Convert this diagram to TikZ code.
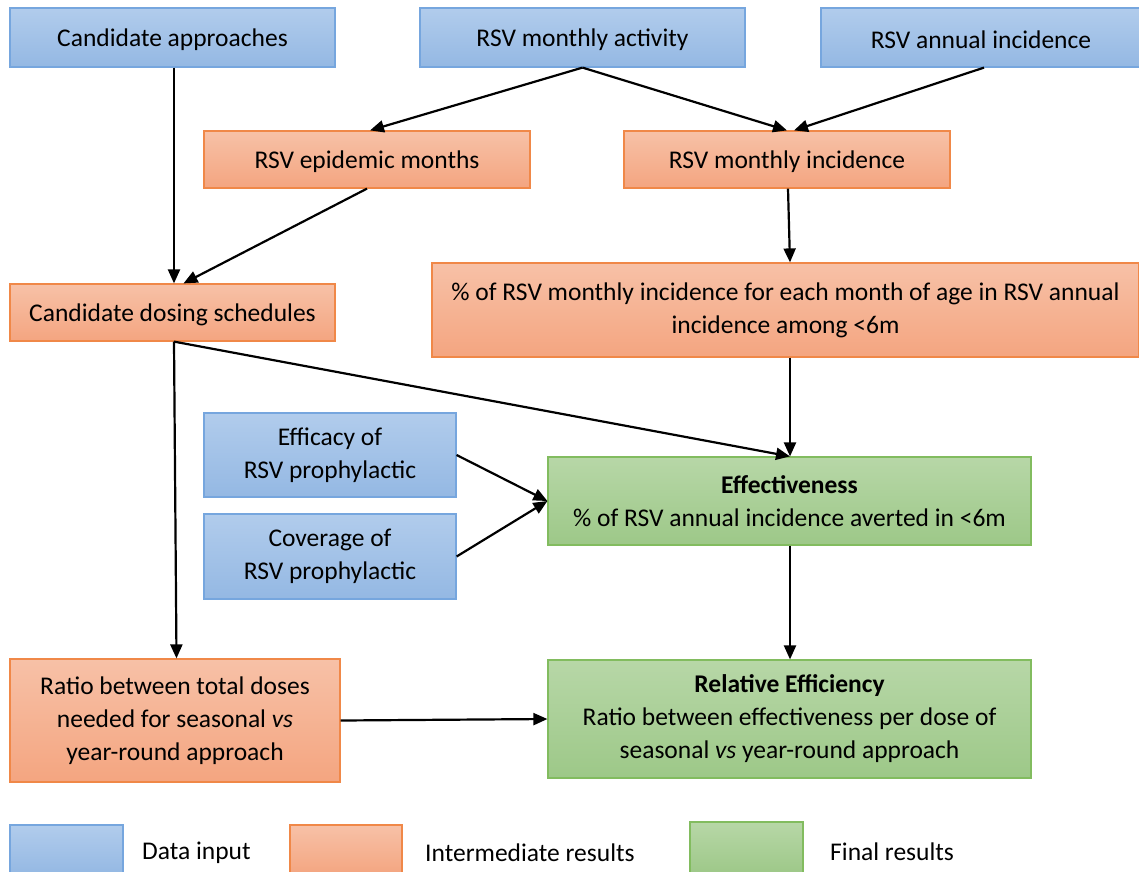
\documentclass[tikz,border=0pt]{standalone}
\usepackage{fontspec}
\setmainfont{Carlito}
\usetikzlibrary{arrows.meta,calc}
\newcommand{\lowtxt}[1]{\raisebox{-2.5pt}[\height][\depth]{#1}}
\definecolor{bltop}{RGB}{177,204,236}
\definecolor{blbot}{RGB}{148,184,227}
\definecolor{blbd}{RGB}{118,166,222}
\definecolor{ortop}{RGB}{247,193,167}
\definecolor{orbot}{RGB}{244,165,128}
\definecolor{orbd}{RGB}{240,136,72}
\definecolor{grtop}{RGB}{183,215,167}
\definecolor{grbot}{RGB}{157,200,136}
\definecolor{grbd}{RGB}{130,188,95}
\tikzset{
  box/.style={line width=1.2pt, inner sep=0pt, align=center, font=\fontsize{25.5}{33}\selectfont},
  datab/.style={box, draw=blbd, top color=bltop, bottom color=blbot},
  interb/.style={box, draw=orbd, top color=ortop, bottom color=orbot},
  finalb/.style={box, draw=grbd, top color=grtop, bottom color=grbot},
  legtext/.style={anchor=west, inner sep=0pt, font=\fontsize{25.5}{33}\selectfont},
  arr/.style={-{Triangle[length=14pt,width=12pt]}, line width=2.2pt},
}
\begin{document}
\begin{tikzpicture}[x=1pt,y=-1pt]
\useasboundingbox (0,0) rectangle (1139,871);
\fill[white] (0,0) rectangle (1139,871);
% nodes
\node[datab, minimum width=325pt, minimum height=59pt] (ca) at (172.5,37.5) {\lowtxt{Candidate approaches}};
\node[datab, minimum width=325pt, minimum height=59pt] (act) at (582.5,37.5) {\lowtxt{RSV monthly activity}};
\node[datab, minimum width=320pt, minimum height=59pt] (ann) at (981,37.5) {\lowtxt{RSV annual incidence}};
\node[interb, minimum width=326pt, minimum height=57pt] (epi) at (367,159.5) {\lowtxt{RSV epidemic months}};
\node[interb, minimum width=326pt, minimum height=57pt] (minc) at (787,159.5) {\lowtxt{RSV monthly incidence}};
\node[interb, minimum width=325pt, minimum height=57pt] (dose) at (172.5,312.5) {\lowtxt{Candidate dosing schedules}};
\node[interb, minimum width=707pt, minimum height=94pt] (pct) at (785.5,310) {\% of RSV monthly incidence for each month of age in RSV annual\\incidence among <6m};
\node[datab, minimum width=252pt, minimum height=84pt] (effi) at (330,455) {Efficacy of\\RSV prophylactic};
\node[datab, minimum width=252pt, minimum height=85pt] (cov) at (330,556.5) {Coverage of\\RSV prophylactic};
\node[finalb, minimum width=483pt, minimum height=88pt] (eff) at (789.5,501) {\textbf{Effectiveness}\\\% of RSV annual incidence averted in <6m};
\node[interb, minimum width=330pt, minimum height=123pt] (ratio) at (175,720.5) {Ratio between total doses\\needed for seasonal \textit{vs}\\year-round approach};
\node[finalb, minimum width=483pt, minimum height=118pt] (rel) at (789.5,719) {\textbf{Relative Efficiency}\\Ratio between effectiveness per dose of\\seasonal \textit{vs} year-round approach};
% legend
\node[datab, minimum width=113pt, minimum height=50pt] (lb) at (66.5,850) {};
\node[interb, minimum width=112pt, minimum height=50pt] (lo) at (346,850) {};
\node[finalb, minimum width=113pt, minimum height=52pt] (lg) at (746.5,848) {};
\node[legtext] (lbt) at (142,853) {Data input};
\node[legtext] (lot) at (425,853) {Intermediate results};
\node[legtext] (lgt) at (830,852) {Final results};
% connectors
\draw[arr] ([xshift=1.5pt]ca.south) -- ([xshift=1.5pt]dose.north);
\draw[arr] (act.south) -- ([xshift=3pt]epi.north);
\draw[arr] (act.south) -- ([xshift=0pt]minc.north);
\draw[arr] ([xshift=3pt]ann.south) -- ([xshift=7pt]minc.north);
\draw[arr] (epi.south) -- ([xshift=11pt]dose.north);
\draw[arr] ([xshift=1pt]minc.south) -- ([xshift=4.5pt]pct.north);
\draw[arr] ([xshift=1.5pt]dose.south) -- ([xshift=1.5pt]ratio.north);
\draw[arr] ([xshift=1.5pt]dose.south) -- ([xshift=0.5pt]eff.north);
\draw[arr] ([xshift=4.5pt]pct.south) -- ([xshift=0.5pt]eff.north);
\draw[arr] (effi.east) -- (eff.west);
\draw[arr] (cov.east) -- (eff.west);
\draw[arr] ([xshift=0.5pt]eff.south) -- ([xshift=0.5pt]rel.north);
\draw[arr] (ratio.east) -- (rel.west);
\end{tikzpicture}
\end{document}
